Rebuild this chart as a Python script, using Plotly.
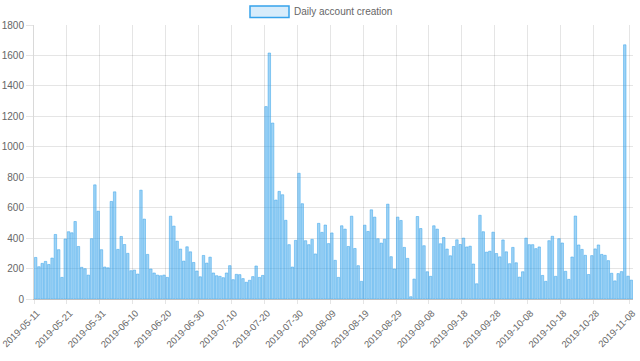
import pandas as pd
import plotly.graph_objects as go

# Daily dates (categories)
dates = [d.strftime("%Y-%m-%d") for d in pd.date_range("2019-05-11", "2019-11-08", freq="D")]

# Daily account creation values
accounts = [
    273, 212, 234, 247, 227, 269, 424, 324, 142, 394,
    442, 435, 509, 345, 208, 199, 157, 396, 750, 577,
    324, 210, 205, 641, 704, 326, 411, 358, 300, 186,
    190, 164, 715, 525, 293, 197, 171, 157, 153, 157,
    142, 544, 479, 380, 328, 249, 343, 310, 240, 184,
    146, 286, 236, 275, 171, 153, 149, 140, 171, 219,
    127, 162, 160, 134, 110, 123, 147, 217, 142, 155,
    1264, 1616, 1156, 650, 707, 685, 517, 357, 210, 385,
    826, 626, 383, 357, 392, 296, 497, 438, 486, 364,
    434, 254, 142, 481, 459, 345, 544, 332, 219, 116,
    485, 444, 586, 538, 396, 367, 393, 623, 278, 197,
    538, 516, 339, 267, 15, 131, 542, 463, 350, 179,
    149, 481, 459, 363, 404, 328, 284, 345, 389, 358,
    400, 342, 347, 230, 100, 550, 442, 308, 314, 439,
    299, 277, 388, 310, 232, 339, 238, 144, 179, 400,
    357, 357, 331, 342, 155, 116, 383, 412, 149, 396,
    368, 182, 129, 276, 545, 355, 326, 287, 161, 285,
    329, 355, 293, 287, 252, 169, 119, 167, 180, 1670,
    150, 124,
]

# X tick labels
tick_labels = [
    "2019-05-11", "2019-05-21", "2019-05-31", "2019-06-10", "2019-06-20",
    "2019-06-30", "2019-07-10", "2019-07-20", "2019-07-30", "2019-08-09",
    "2019-08-19", "2019-08-29", "2019-09-08", "2019-09-18", "2019-09-28",
    "2019-10-08", "2019-10-18", "2019-10-28", "2019-11-08",
]

series_name = "Daily account creation"

FONT = "Liberation Sans, Arial, Helvetica, sans-serif"
FS = 10
TXT = "#666666"
GRID = "rgba(0,0,0,0.1)"
FILL = "rgba(54,162,235,0.48)"
EDGE = "rgb(54,162,235)"

fig = go.Figure()
fig.add_trace(go.Bar(
    x=dates,
    y=accounts,
    name=series_name,
    xperiod=86400000,
    xperiodalignment="middle",
    marker=dict(color=FILL, line=dict(color=EDGE, width=0.5)),
    showlegend=False,
))

# Legend drawn like the original (wide box + label)
fig.add_shape(type="rect", xref="paper", yref="paper",
              x0=(250 - 34) / 599, x1=(289 - 34) / 599,
              y0=(299 - 17.5) / 274, y1=(299 - 6) / 274,
              fillcolor="rgba(54,162,235,0.2)", line=dict(color=EDGE, width=1.5))
fig.add_annotation(text=series_name, xref="paper", yref="paper",
                   x=(292 - 34) / 599, y=(299 - 11.5) / 274,
                   xanchor="left", yanchor="middle", showarrow=False,
                   font=dict(family=FONT, size=FS, color=TXT))

fig.update_layout(
    width=640, height=361,
    margin=dict(l=34, r=7, t=25, b=62, pad=0),
    paper_bgcolor="white", plot_bgcolor="white",
    font=dict(family=FONT, size=FS, color=TXT),
    bargap=0.25,
)
fig.update_xaxes(
    type="date",
    range=["2019-05-11", "2019-11-09"],
    tickvals=tick_labels, ticktext=tick_labels,
    tickangle=-45,
    ticklabeloverflow="allow",
    ticklabelshift=3,
    tickfont=dict(family=FONT, size=9.5, color=TXT),
    showgrid=True, gridcolor=GRID, gridwidth=1,
    ticks="outside", ticklen=4, tickcolor=GRID,
    showline=True, linecolor="rgba(0,0,0,0.25)", linewidth=1,
    zeroline=False, automargin=False,
)
fig.update_yaxes(
    range=[0, 1800], tick0=0, dtick=200,
    tickfont=dict(family=FONT, size=FS, color=TXT),
    showgrid=True, gridcolor=GRID, gridwidth=1,
    ticks="outside", ticklen=7, tickcolor=GRID,
    showline=True, linecolor="rgba(0,0,0,0.15)", linewidth=1,
    zeroline=False, automargin=False,
)

fig.write_html("out.html", config={"displayModeBar": False},
               post_script="document.body.style.margin='0';document.body.style.overflow='hidden';")
